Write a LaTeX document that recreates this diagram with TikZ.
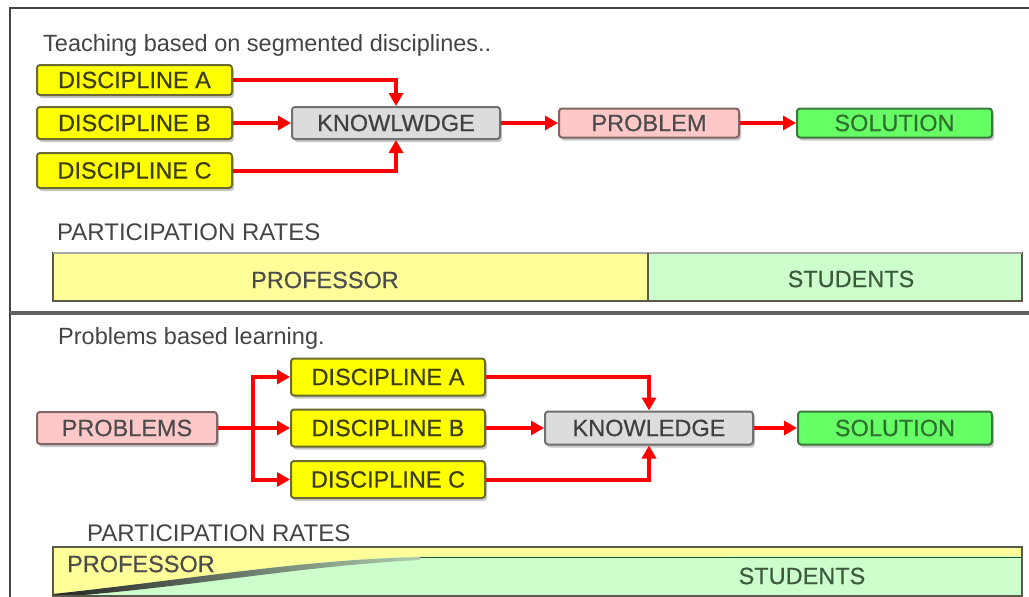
\documentclass[tikz,border=0pt]{standalone}
\usepackage{fontspec}
\setmainfont{Liberation Sans}
\newfontfamily\boxfont[FakeBold=0.5]{Liberation Sans}
\usetikzlibrary{arrows.meta,shadows}
\definecolor{frameC}{HTML}{444444}
\definecolor{txtC}{HTML}{444444}
\definecolor{yfill}{HTML}{FFFF00}
\definecolor{ydraw}{HTML}{6B6B30}
\definecolor{ytext}{HTML}{3C3C14}
\definecolor{kfill}{HTML}{DCDCDC}
\definecolor{kdraw}{HTML}{707070}
\definecolor{pfill}{HTML}{FFC8C8}
\definecolor{pdraw}{HTML}{806666}
\definecolor{sfill}{HTML}{66FF66}
\definecolor{sdraw}{HTML}{3A7A3A}
\definecolor{stext}{HTML}{2F6F2F}
\definecolor{arrC}{HTML}{FF0000}
\definecolor{barY}{HTML}{FFFF99}
\definecolor{barG}{HTML}{CCFFCC}
\definecolor{barD}{HTML}{5A5A4A}
\definecolor{stuC}{HTML}{3D5A3D}
\definecolor{shadowC}{HTML}{C8C8C8}
\begin{document}
\begin{tikzpicture}[x=1pt,y=-1pt,
  boxtxt/.style={font=\boxfont\fontsize{23.5}{25}\selectfont},
  box/.style={boxtxt, rectangle, rounded corners=3pt, line width=2pt, inner sep=0pt,
    drop shadow={shadow xshift=2pt, shadow yshift=-3pt, fill=shadowC, opacity=1}},
  ybox/.style={box, fill=yfill, draw=ydraw, text=ytext},
  kbox/.style={box, fill=kfill, draw=kdraw, text=black!75},
  pbox/.style={box, fill=pfill, draw=pdraw, text=black!70},
  sbox/.style={box, fill=sfill, draw=sdraw, text=stext},
  conn/.style={draw=arrC, line width=4pt},
  arr/.style={conn, -{Triangle[length=13pt,width=14pt]}},
  title/.style={font=\fontsize{23.5}{25}\selectfont, text=txtC, anchor=west, inner sep=0pt},
  rates/.style={font=\fontsize{24}{26}\selectfont, text=txtC, anchor=west, inner sep=0pt},
  bartxt/.style={font=\boxfont\fontsize{23.5}{25}\selectfont, inner sep=0pt},
]
\useasboundingbox (0,0) rectangle (1029,597);
\fill[white] (0,0) rectangle (1029,597);
% frame
\draw[frameC, line width=2.5pt] (10,597) -- (10,8) -- (1029,8);
\draw[gray!75!black, line width=4pt] (10,313) -- (1029,313);

% ---------- top section
\node[title] (t1) at (43,45) {Teaching based on segmented disciplines..};
\node[ybox, minimum width=195pt, minimum height=30pt] (ta) at (134.5,80) {DISCIPLINE A};
\node[ybox, minimum width=195pt, minimum height=32pt] (tb) at (134.5,123) {DISCIPLINE B};
\node[ybox, minimum width=195pt, minimum height=35pt] (tc) at (134.5,170.5) {DISCIPLINE C};
\node[kbox, minimum width=208pt, minimum height=32pt] (tk) at (396,123) {KNOWLWDGE};
\node[pbox, minimum width=180pt, minimum height=29pt] (tp) at (649,123) {PROBLEM};
\node[sbox, minimum width=195pt, minimum height=29pt] (ts) at (894.5,123) {SOLUTION};
\draw[arr] (ta.east) -| (tk.north);
\draw[arr] (tc.east) -| (tk.south);
\draw[arr] (tb.east) -- (tk.west);
\draw[arr] (tk.east) -- (tp.west);
\draw[arr] (tp.east) -- (ts.west);

\node[rates] (tr) at (57,232) {PARTICIPATION RATES};
\fill[barY] (53,253) rectangle (648,301);
\fill[barG] (648,253) rectangle (1022,301);
\draw[barD, line width=2.5pt] (53,253) rectangle (1022,301);
\draw[gray!70, line width=2.5pt] (53,253) -- (1022,253);
\draw[barD, line width=2.5pt] (648,253) -- (648,301);
\node[bartxt, text=black!70] (tpr) at (325,280) {PROFESSOR};
\node[bartxt, text=stuC] (tst) at (851,279) {STUDENTS};

% ---------- bottom section
\node[title] (t2) at (58,338) {Problems based learning.};
\node[pbox, minimum width=180pt, minimum height=32pt] (bp) at (127,428) {PROBLEMS};
\node[ybox, minimum width=194pt, minimum height=37pt] (ba) at (388,377) {DISCIPLINE A};
\node[ybox, minimum width=194pt, minimum height=37pt] (bb) at (388,428) {DISCIPLINE B};
\node[ybox, minimum width=194pt, minimum height=37pt] (bc) at (388,479.5) {DISCIPLINE C};
\node[kbox, minimum width=208pt, minimum height=33pt] (bk) at (649,428) {KNOWLEDGE};
\node[sbox, minimum width=194pt, minimum height=33pt] (bs) at (895,428) {SOLUTION};
\coordinate (br) at (253,428);
\draw[conn] (bp.east) -- (br);
\draw[arr] (br) |- (ba.west);
\draw[arr] (br) -- (bb.west);
\draw[arr] (br) |- (bc.west);
\draw[arr] (ba.east) -| (bk.north);
\draw[arr] (bc.east) -| (bk.south);
\draw[arr] (bb.east) -- (bk.west);
\draw[arr] (bk.east) -- (bs.west);

\node[rates] (br2) at (87,533) {PARTICIPATION RATES};
\fill[barG] (53,547) rectangle (1022,596);
\fill[barY] (53,547) -- (1022,547) -- (1022,556) -- (420,556.5)
   .. controls (300,560) and (200,578) .. (53,594) -- cycle;
\draw[gray!60!green!50!black, line width=1.5pt] (1022,557.5) -- (420,557.5);
\shade[left color=black!85, right color=barG!60!gray] (53,594)
   .. controls (200,578) and (300,560) .. (420,557) -- (420,560)
   .. controls (300,566) and (200,586) .. (60,597) -- (53,597) -- cycle;
\draw[barD, line width=2.5pt] (53,547) rectangle (1022,596);
\node[bartxt, text=black!70, anchor=west] (bpr) at (67,564) {PROFESSOR};
\node[bartxt, text=stuC] (bst) at (802,576) {STUDENTS};
\end{tikzpicture}
\end{document}
